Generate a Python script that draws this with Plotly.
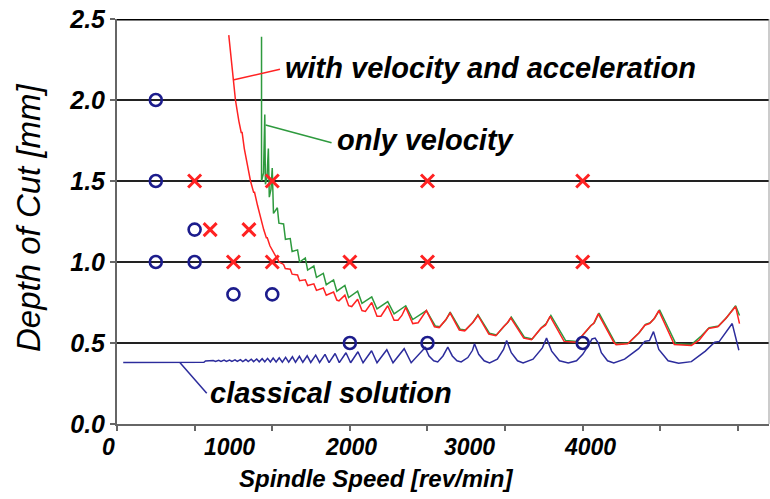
import plotly.graph_objects as go

# ---------------- data ----------------
red_x = [720, 745, 763, 785, 800, 806, 820, 840, 860, 880, 886, 905, 925, 945, 962, 968, 985, 996, 1005, 1020, 1033,
         1043, 1073, 1084, 1116, 1128, 1163, 1176, 1213, 1228, 1268, 1285, 1329, 1348, 1395,
         1416, 1430, 1468, 1492, 1512, 1550, 1578, 1600, 1641, 1675, 1700, 1744,
         1785, 1810, 1835, 1860, 1905, 1940, 1965, 1993, 2045, 2075, 2115, 2146, 2205, 2240, 2290, 2325,
         2395, 2440, 2490, 2515, 2536, 2620, 2670, 2730, 2760, 2790,
         2880, 2960, 3010, 3050, 3070, 3100,
         3200, 3215, 3290, 3360, 3400, 3430, 3460, 3490,
         3590, 3700, 3750, 3810, 3870, 3920, 3985, 4010]
red_y = [2.40, 2.17, 2.00, 1.87, 1.80, 1.80, 1.70, 1.60, 1.50, 1.43, 1.43, 1.35, 1.27, 1.20, 1.15, 1.15, 1.10, 1.08, 1.06, 1.04, 1.025,
         1.00, 0.985, 0.96, 0.955, 0.925, 0.92, 0.885, 0.89, 0.855, 0.865, 0.825, 0.84, 0.795, 0.815,
         0.765, 0.76, 0.795, 0.73, 0.725, 0.77, 0.70, 0.695, 0.75, 0.665, 0.665, 0.73,
         0.64, 0.64, 0.67, 0.72, 0.62, 0.625, 0.66, 0.70, 0.60, 0.595, 0.64, 0.685, 0.58, 0.575, 0.625, 0.67,
         0.555, 0.545, 0.60, 0.625, 0.655, 0.53, 0.52, 0.59, 0.61, 0.665,
         0.51, 0.505, 0.56, 0.605, 0.62, 0.68,
         0.505, 0.49, 0.495, 0.56, 0.61, 0.62, 0.65, 0.70,
         0.49, 0.485, 0.518, 0.59, 0.60, 0.65, 0.725, 0.62]

green_x = [931, 931, 944, 952, 956, 966, 975, 981, 992, 1000, 1008, 1022, 1033,
           1043, 1073, 1085, 1116, 1128, 1163, 1176, 1213, 1228, 1268, 1285, 1329, 1348, 1395,
           1416, 1468, 1492, 1550, 1578, 1641, 1675, 1744, 1785, 1860, 1905, 1993,
           2050, 2080, 2120, 2146, 2210, 2245, 2295, 2325,
           2400, 2445, 2495, 2520, 2540, 2625, 2675, 2735, 2765, 2795,
           2890, 2965, 3015, 3055, 3075, 3105,
           3210, 3225, 3295, 3365, 3405, 3435, 3465, 3495,
           3600, 3700, 3765, 3815, 3875, 3925, 3985, 4010]
green_y = [2.39, 1.50, 1.55, 1.91, 1.48, 1.52, 1.70, 1.40, 1.45, 1.58, 1.30, 1.32, 1.335,
           1.24, 1.235, 1.14, 1.145, 1.065, 1.075, 1.00, 1.025, 0.95, 0.975, 0.905, 0.93, 0.86, 0.89,
           0.82, 0.855, 0.78, 0.82, 0.745, 0.785, 0.71, 0.755, 0.68, 0.73, 0.645, 0.70,
           0.605, 0.60, 0.645, 0.69, 0.585, 0.58, 0.63, 0.675,
           0.56, 0.55, 0.605, 0.63, 0.66, 0.535, 0.525, 0.595, 0.62, 0.67,
           0.515, 0.51, 0.565, 0.61, 0.625, 0.685,
           0.50, 0.495, 0.50, 0.565, 0.615, 0.625, 0.655, 0.705,
           0.495, 0.49, 0.545, 0.595, 0.605, 0.655, 0.73, 0.67]

blue_x = [40, 200, 350, 450, 470, 500, 560, 570, 600,
          620, 635, 655, 670, 690, 705, 725, 740, 760, 775, 795, 810, 830, 845, 865, 880, 900, 916, 935, 952,
          970, 988, 1006, 1025, 1045, 1065, 1086, 1106, 1130, 1150, 1175, 1197, 1225, 1248, 1280, 1305, 1340, 1366,
          1405, 1432, 1475, 1505, 1552, 1585, 1640, 1675, 1738, 1778, 1850, 1895, 1985,
          2010, 2040, 2066, 2100, 2131, 2160, 2190, 2217, 2260, 2290, 2303, 2330, 2365, 2400, 2450, 2490, 2510,
          2540, 2580, 2616, 2680, 2740, 2767, 2800, 2850, 2907, 2960, 3000, 3040, 3060, 3080, 3100, 3120, 3160,
          3200, 3270, 3360, 3400, 3430, 3456, 3490, 3550, 3618, 3700, 3790, 3850, 3880, 3920, 3963, 4006]
blue_y = [0.380, 0.381, 0.380, 0.381, 0.379, 0.381, 0.381, 0.389, 0.388,
          0.392, 0.386, 0.393, 0.386, 0.394, 0.386, 0.395, 0.386, 0.396, 0.386, 0.397, 0.385, 0.398, 0.385, 0.400, 0.385, 0.401, 0.384, 0.403, 0.384,
          0.405, 0.383, 0.407, 0.383, 0.409, 0.382, 0.412, 0.382, 0.415, 0.381, 0.418, 0.381, 0.421, 0.380, 0.425, 0.380, 0.430, 0.379,
          0.435, 0.379, 0.440, 0.378, 0.446, 0.378, 0.452, 0.378, 0.458, 0.378, 0.465, 0.378, 0.472,
          0.42, 0.39, 0.383, 0.42, 0.475, 0.42, 0.39, 0.383, 0.41, 0.455, 0.495, 0.43, 0.39, 0.377, 0.40, 0.46, 0.515,
          0.44, 0.39, 0.377, 0.40, 0.47, 0.53, 0.45, 0.39, 0.376, 0.39, 0.43, 0.49, 0.525, 0.53, 0.50, 0.44, 0.39,
          0.377, 0.40, 0.465, 0.51, 0.515, 0.57, 0.46, 0.39, 0.375, 0.385, 0.45, 0.505, 0.51, 0.56, 0.62, 0.455]

stable_x = [250, 250, 250, 500, 500, 750, 1000, 1500, 2000, 3000]
stable_y = [2.0, 1.5, 1.0, 1.2, 1.0, 0.8, 0.8, 0.5, 0.5, 0.5]
unstable_x = [500, 1000, 2000, 3000, 600, 850, 750, 1000, 1500, 2000, 3000]
unstable_y = [1.5, 1.5, 1.5, 1.5, 1.2, 1.2, 1.0, 1.0, 1.0, 1.0, 1.0]

x_tick_labels = ["0", "1000", "2000", "3000", "4000"]

# layout constants (paper fractions where the reference prints the x tick labels)
X_LABEL_PAPER = [-0.0138, 0.1733, 0.3589, 0.5399, 0.7255]

RED = "#ff2222"
GREEN = "#2e9a3e"
BLUE = "#2c2c9c"
NAVY = "#1c1c8c"

fig = go.Figure()
fig.add_trace(go.Scatter(x=blue_x, y=blue_y, mode="lines", line=dict(color=BLUE, width=1.5), showlegend=False))
fig.add_trace(go.Scatter(x=green_x, y=green_y, mode="lines", line=dict(color=GREEN, width=1.5), showlegend=False))
fig.add_trace(go.Scatter(x=red_x, y=red_y, mode="lines", line=dict(color=RED, width=1.5), showlegend=False))
fig.add_trace(go.Scatter(x=stable_x, y=stable_y, mode="markers",
                         marker=dict(symbol="circle-open", size=12, color=NAVY, line=dict(width=2.6, color=NAVY)),
                         showlegend=False))
fig.add_trace(go.Scatter(x=unstable_x, y=unstable_y, mode="markers",
                         marker=dict(symbol="x-thin", size=13, color=RED, line=dict(width=3, color=RED)),
                         showlegend=False))

FONT = "Liberation Sans, Arial, sans-serif"

shapes = [
    dict(type="line", xref="paper", yref="y", x0=0, x1=1, y0=2.5, y1=2.5, line=dict(color="black", width=3)),
    dict(type="line", xref="paper", yref="paper", x0=1, x1=1, y0=0, y1=1, line=dict(color="#999999", width=1)),
    # leader lines
    dict(type="line", xref="x", yref="y", x0=747, y0=2.123, x1=1050, y1=2.19, line=dict(color=RED, width=1.5)),
    dict(type="line", xref="x", yref="y", x0=957, y0=1.846, x1=1382, y1=1.736, line=dict(color=GREEN, width=1.5)),
    dict(type="line", xref="x", yref="y", x0=406, y0=0.378, x1=578, y1=0.19, line=dict(color=BLUE, width=1.5)),
]

ann_font = dict(family=FONT, size=29, color="black", weight="bold", style="italic")
annotations = [
    dict(x=1070, y=2.198, xref="x", yref="y", text="with velocity and acceleration", showarrow=False,
         xanchor="left", yanchor="middle", font=ann_font),
    dict(x=1405, y=1.753, xref="x", yref="y", text="only velocity", showarrow=False,
         xanchor="left", yanchor="middle", font=ann_font),
    dict(x=588, y=0.191, xref="x", yref="y", text="classical solution", showarrow=False,
         xanchor="left", yanchor="middle", font=ann_font),
    dict(x=0.3972, y=-0.1358, xref="paper", yref="paper", text="Spindle Speed [rev/min]", showarrow=False,
         xanchor="center", yanchor="middle", font=dict(family=FONT, size=24, color="black", weight="bold", style="italic")),
    dict(x=-0.1365, y=0.5086, xref="paper", yref="paper", text="Depth of Cut [mm]", showarrow=False, textangle=-90,
         xanchor="center", yanchor="middle", font=dict(family=FONT, size=33, color="black", style="italic")),
]
for lab, pos in zip(x_tick_labels, X_LABEL_PAPER):
    annotations.append(dict(x=pos, y=-0.0568, xref="paper", yref="paper", text=lab, showarrow=False,
                            xanchor="center", yanchor="middle",
                            font=dict(family=FONT, size=23, color="black", weight="bold", style="italic")))

fig.update_layout(
    width=770, height=499,
    margin=dict(l=117, r=1, t=19, b=75),
    paper_bgcolor="white", plot_bgcolor="white",
    shapes=shapes, annotations=annotations,
    xaxis=dict(range=[0, 4200], showgrid=False, zeroline=False, showticklabels=False,
               tickmode="linear", tick0=0, dtick=500, ticks="outside", ticklen=5, tickwidth=2,
               tickcolor="#666666", showline=True, linecolor="#666666", linewidth=2),
    yaxis=dict(range=[0, 2.5], tickmode="linear", tick0=0, dtick=0.5, tickformat=".1f",
               showgrid=True, gridcolor="#222222", gridwidth=1.5, zeroline=False,
               ticks="outside", ticklen=5, tickwidth=2, tickcolor="#666666",
               showline=True, linecolor="#666666", linewidth=2,
               tickfont=dict(family=FONT, size=25, color="black", weight="bold", style="italic")),
)

fig.write_html("out.html")
